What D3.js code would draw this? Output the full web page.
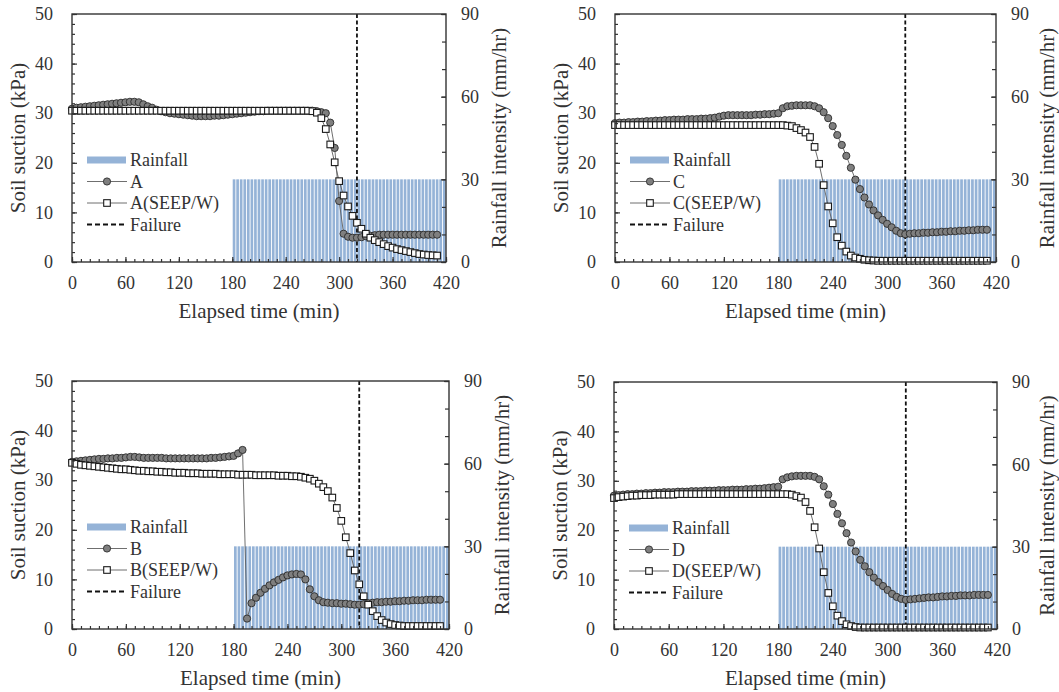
<!DOCTYPE html>
<html lang="en">
<head>
<meta charset="UTF-8">
<title>Soil suction and rainfall vs elapsed time</title>
<script src="https://d3js.org/d3.v7.min.js"></script>
<style>
    body { margin: 0; background: #fff; }
</style>
</head>
<body>
<svg id="chart" width="1059" height="692"></svg>
<script>
// elapsed time of every reading (min)
const times = [
    0, 5, 10, 15, 20, 25, 30, 35, 40, 45,
    50, 55, 60, 65, 70, 75, 80, 85, 90, 95,
    100, 105, 110, 115, 120, 125, 130, 135, 140, 145,
    150, 155, 160, 165, 170, 175, 180, 185, 190, 195,
    200, 205, 210, 215, 220, 225, 230, 235, 240, 245,
    250, 255, 260, 265, 270, 275, 280, 285, 290, 295,
    300, 305, 310, 315, 320, 325, 330, 335, 340, 345,
    350, 355, 360, 365, 370, 375, 380, 385, 390, 395,
    400, 405, 410
];

// soil suction (kPa), measured and SEEP/W
const aMeas = [
    30.9, 31.1, 31.2, 31.3, 31.4, 31.5, 31.6, 31.7, 31.8, 31.9,
    32.0, 32.1, 32.2, 32.3, 32.3, 32.2, 31.8, 31.4, 31.1, 30.7,
    30.4, 30.2, 30.0, 29.9, 29.8, 29.7, 29.6, 29.5, 29.4, 29.4,
    29.4, 29.4, 29.5, 29.5, 29.6, 29.7, 29.8, 29.9, 30.0, 30.1,
    30.2, 30.3, 30.4, 30.4, 30.5, 30.5, 30.5, 30.5, 30.5, 30.5,
    30.5, 30.5, 30.5, 30.5, 30.5, 30.4, 30.2, 30.0, 28.1, 23.0,
    12.3, 5.7, 5.1, 4.9, 4.9, 5.0, 5.2, 5.3, 5.4, 5.5,
    5.5, 5.5, 5.5, 5.5, 5.5, 5.5, 5.5, 5.5, 5.5, 5.5,
    5.5, 5.5, 5.5
];
const aSeep = [
    30.5, 30.5, 30.5, 30.5, 30.5, 30.5, 30.5, 30.5, 30.5, 30.5,
    30.5, 30.5, 30.5, 30.5, 30.5, 30.5, 30.5, 30.5, 30.5, 30.5,
    30.5, 30.5, 30.5, 30.5, 30.5, 30.5, 30.5, 30.5, 30.5, 30.5,
    30.5, 30.5, 30.5, 30.5, 30.5, 30.5, 30.5, 30.5, 30.5, 30.5,
    30.5, 30.5, 30.5, 30.5, 30.5, 30.5, 30.5, 30.5, 30.5, 30.5,
    30.5, 30.5, 30.5, 30.5, 30.4, 30.1, 29.0, 26.8, 23.7, 20.1,
    16.3, 13.4, 11.2, 9.3, 7.9, 6.7, 5.7, 4.9, 4.4, 4.0,
    3.6, 3.2, 2.9, 2.6, 2.4, 2.2, 2.0, 1.8, 1.6, 1.5,
    1.4, 1.35, 1.3
];
const bMeas = [
    33.7, 33.8, 33.9, 34.0, 34.1, 34.2, 34.3, 34.3, 34.4, 34.4,
    34.5, 34.5, 34.6, 34.7, 34.7, 34.6, 34.5, 34.5, 34.5, 34.5,
    34.5, 34.4, 34.4, 34.4, 34.4, 34.4, 34.4, 34.4, 34.4, 34.4,
    34.4, 34.5, 34.5, 34.6, 34.7, 34.8, 34.9, 35.4, 36.1, 2.1,
    5.2, 6.3, 7.3, 8.1, 8.8, 9.4, 9.9, 10.4, 10.8, 11.0,
    11.1, 11.0, 10.0, 8.0, 6.6, 5.8, 5.4, 5.3, 5.2, 5.2,
    5.1, 5.1, 5.0, 4.9, 4.9, 5.0, 5.2, 5.3, 5.4, 5.4,
    5.5, 5.5, 5.6, 5.6, 5.7, 5.7, 5.8, 5.8, 5.8, 5.9,
    5.9, 5.9, 5.9
];
const bSeep = [
    33.5, 33.3, 33.1, 33.0, 32.9, 32.8, 32.7, 32.6, 32.5, 32.4,
    32.3, 32.2, 32.2, 32.1, 32.0, 31.9, 31.9, 31.8, 31.8, 31.7,
    31.7, 31.6, 31.6, 31.5, 31.5, 31.5, 31.4, 31.4, 31.4, 31.3,
    31.3, 31.3, 31.3, 31.2, 31.2, 31.2, 31.2, 31.1, 31.1, 31.1,
    31.1, 31.0, 31.0, 31.0, 31.0, 31.0, 30.9, 30.9, 30.9, 30.8,
    30.8, 30.7, 30.5, 30.3, 29.9, 29.3, 28.6, 27.8, 26.5, 24.4,
    21.8, 18.5, 15.3, 11.8, 9.0, 6.6, 4.9, 3.6, 2.6, 1.8,
    1.3, 1.0, 0.8, 0.7, 0.6, 0.6, 0.6, 0.6, 0.6, 0.6,
    0.6, 0.6, 0.6
];
const cMeas = [
    28.0, 28.1, 28.1, 28.2, 28.2, 28.3, 28.3, 28.4, 28.4, 28.5,
    28.5, 28.6, 28.6, 28.7, 28.7, 28.7, 28.8, 28.8, 28.8, 28.9,
    28.9, 29.0, 29.1, 29.3, 29.5, 29.6, 29.6, 29.6, 29.6, 29.6,
    29.6, 29.7, 29.7, 29.8, 29.8, 29.9, 30.0, 31.0, 31.4, 31.5,
    31.6, 31.6, 31.6, 31.6, 31.4, 31.0, 30.2, 29.0, 27.4, 25.6,
    23.6, 21.4, 19.0, 16.6, 14.7, 13.0, 11.6, 10.4, 9.4, 8.5,
    7.7, 7.0, 6.3, 5.8, 5.6, 5.7, 5.8, 5.8, 5.9, 5.9,
    6.0, 6.0, 6.1, 6.1, 6.2, 6.2, 6.3, 6.3, 6.4, 6.4,
    6.5, 6.5, 6.5
];
const cSeep = [
    27.6, 27.6, 27.6, 27.6, 27.6, 27.6, 27.6, 27.6, 27.6, 27.6,
    27.6, 27.6, 27.6, 27.6, 27.6, 27.6, 27.6, 27.6, 27.6, 27.6,
    27.6, 27.6, 27.6, 27.6, 27.6, 27.6, 27.6, 27.6, 27.6, 27.6,
    27.6, 27.6, 27.6, 27.6, 27.6, 27.6, 27.6, 27.6, 27.5, 27.4,
    27.0, 26.6, 26.1, 25.2, 23.2, 19.8, 15.5, 11.2, 7.8, 5.0,
    3.3, 2.1, 1.3, 0.9, 0.65, 0.45, 0.35, 0.3, 0.25, 0.25,
    0.25, 0.25, 0.25, 0.25, 0.25, 0.25, 0.25, 0.25, 0.25, 0.25,
    0.25, 0.25, 0.25, 0.25, 0.25, 0.25, 0.25, 0.25, 0.25, 0.25,
    0.25, 0.25, 0.25
];
const dMeas = [
    27.0, 27.1, 27.2, 27.3, 27.3, 27.4, 27.4, 27.5, 27.5, 27.6,
    27.6, 27.7, 27.7, 27.7, 27.8, 27.8, 27.8, 27.9, 27.9, 27.9,
    28.0, 28.0, 28.0, 28.1, 28.1, 28.1, 28.2, 28.2, 28.2, 28.3,
    28.3, 28.4, 28.4, 28.5, 28.6, 28.7, 28.8, 30.3, 30.7, 30.9,
    31.0, 31.0, 31.0, 31.0, 30.8, 30.3, 28.9, 27.2, 25.3, 23.3,
    21.4, 19.4, 17.5, 15.7, 14.0, 12.7, 11.5, 10.4, 9.5, 8.7,
    7.9, 7.1, 6.5, 6.1, 5.9, 6.0, 6.1, 6.2, 6.3, 6.4,
    6.4, 6.5, 6.6, 6.6, 6.7, 6.7, 6.8, 6.8, 6.8, 6.9,
    6.9, 6.9, 6.9
];
const dSeep = [
    26.5, 26.7, 26.8, 26.9, 27.0, 27.0, 27.1, 27.1, 27.1, 27.2,
    27.2, 27.2, 27.2, 27.2, 27.3, 27.3, 27.3, 27.3, 27.3, 27.3,
    27.3, 27.3, 27.3, 27.3, 27.3, 27.3, 27.3, 27.3, 27.3, 27.3,
    27.3, 27.3, 27.3, 27.3, 27.3, 27.3, 27.3, 27.3, 27.3, 27.2,
    26.9, 26.6, 25.7, 23.9, 20.6, 16.3, 11.5, 7.3, 4.6, 2.7,
    1.6, 0.95, 0.6, 0.4, 0.3, 0.3, 0.3, 0.3, 0.3, 0.3,
    0.3, 0.3, 0.3, 0.3, 0.3, 0.3, 0.3, 0.3, 0.3, 0.3,
    0.3, 0.3, 0.3, 0.3, 0.3, 0.3, 0.3, 0.3, 0.3, 0.3,
    0.3, 0.3, 0.3
];

// rainfall bars (mm/hr)
const rainTimes = [
    180, 184, 188, 192, 196, 200, 204, 208, 212, 216,
    220, 224, 228, 232, 236, 240, 244, 248, 252, 256,
    260, 264, 268, 272, 276, 280, 284, 288, 292, 296,
    300, 304, 308, 312, 316, 320, 324, 328, 332, 336,
    340, 344, 348, 352, 356, 360, 364, 368, 372, 376,
    380, 384, 388, 392, 396, 400, 404, 408, 412, 416
];
const rainValues = [
    30, 30, 30, 30, 30, 30, 30, 30, 30, 30,
    30, 30, 30, 30, 30, 30, 30, 30, 30, 30,
    30, 30, 30, 30, 30, 30, 30, 30, 30, 30,
    30, 30, 30, 30, 30, 30, 30, 30, 30, 30,
    30, 30, 30, 30, 30, 30, 30, 30, 30, 30,
    30, 30, 30, 30, 30, 30, 30, 30, 30, 30
];
const failureTime = 320;

const xTicks = [0, 60, 120, 180, 240, 300, 360, 420];
const yTicks = [0, 10, 20, 30, 40, 50];
const rTicks = [0, 30, 60, 90];

const panels = [
    { name: "A", meas: aMeas, seep: aSeep, left: 72, top: 14, width: 374, height: 248, titleR: 53 },
    { name: "C", meas: cMeas, seep: cSeep, left: 615, top: 14, width: 381, height: 248, titleR: 51 },
    { name: "B", meas: bMeas, seep: bSeep, left: 72, top: 381, width: 377, height: 248, titleR: 53 },
    { name: "D", meas: dMeas, seep: dSeep, left: 614, top: 382, width: 383, height: 247, titleR: 50 }
];

const FONT = '"Liberation Serif", "Times New Roman", serif';
const svg = d3.select("#chart");
const rainColor = "#95b3d7";
const lineColor = "#5f5f5f";
const frameColor = "#333";

function styleAxis(sel) {
    sel.attr("color", frameColor).attr("font-size", 18).attr("font-family", null);
    sel.select(".domain").remove();
    sel.selectAll(".tick line").attr("stroke-width", 1.2);
    sel.selectAll(".tick text").style("font-family", FONT).attr("fill", "#333");
}

function drawPanel(p) {
    const g = svg.append("g").attr("transform", `translate(${p.left},${p.top})`);
    const w = p.width, h = p.height;

    const x = d3.scaleLinear().domain([0, 420]).range([0, w]);
    const y = d3.scaleLinear().domain([0, 50]).range([h, 0]);
    const yR = d3.scaleLinear().domain([0, 90]).range([h, 0]);
    const band = d3.scaleBand().domain(rainTimes).range([x(180), x(420)]).paddingInner(0.25).paddingOuter(0.12);

    // rainfall
    const rain = rainTimes.map((t, i) => ({ t: t, v: rainValues[i] }));
    g.append("g").selectAll("rect")
        .data(rain)
        .join("rect")
        .attr("x", d => band(d.t))
        .attr("width", band.bandwidth())
        .attr("y", d => yR(d.v))
        .attr("height", d => yR(0) - yR(d.v))
        .attr("fill", rainColor);

    // failure line
    g.append("line")
        .attr("x1", x(failureTime)).attr("x2", x(failureTime))
        .attr("y1", 0).attr("y2", h)
        .attr("stroke", "#111").attr("stroke-width", 1.8)
        .attr("stroke-dasharray", "4,2.5");

    const line = d3.line().x(d => x(d.t)).y(d => y(d.v));
    const measData = times.map((t, i) => ({ t: t, v: p.meas[i] }));
    const seepData = times.map((t, i) => ({ t: t, v: p.seep[i] }));

    // measured
    g.append("path").datum(measData)
        .attr("d", line).attr("fill", "none")
        .attr("stroke", lineColor).attr("stroke-width", 0.9);
    g.append("g").selectAll("circle")
        .data(measData)
        .join("circle")
        .attr("cx", d => x(d.t)).attr("cy", d => y(d.v)).attr("r", 3.6)
        .attr("fill", "#7f7f7f").attr("stroke", "#2b2b2b").attr("stroke-width", 0.9);

    // SEEP/W
    g.append("path").datum(seepData)
        .attr("d", line).attr("fill", "none")
        .attr("stroke", lineColor).attr("stroke-width", 0.9);
    g.append("g").selectAll("rect")
        .data(seepData)
        .join("rect")
        .attr("x", d => x(d.t) - 3.3).attr("y", d => y(d.v) - 3.3)
        .attr("width", 6.6).attr("height", 6.6)
        .attr("fill", "#fff").attr("stroke", "#1a1a1a").attr("stroke-width", 1.1);

    // axes
    g.append("g").call(d3.axisLeft(y).tickValues(d3.range(0, 51, 2)).tickSize(-3).tickFormat(""))
        .call(styleAxis);
    g.append("g").call(d3.axisLeft(y).tickValues(yTicks).tickSize(-5).tickPadding(19))
        .call(styleAxis);

    g.append("g").attr("transform", `translate(${w},0)`)
        .call(d3.axisRight(yR).tickValues(d3.range(0, 91, 10)).tickSize(-4).tickFormat(""))
        .call(styleAxis);
    g.append("g").attr("transform", `translate(${w},0)`)
        .call(d3.axisRight(yR).tickValues(rTicks).tickSize(-5).tickPadding(15))
        .call(styleAxis);

    g.append("g").attr("transform", `translate(0,${h})`)
        .call(d3.axisBottom(x).tickValues(d3.range(0, 421, 10)).tickSize(-3).tickFormat(""))
        .call(styleAxis);
    g.append("g").attr("transform", `translate(0,${h})`)
        .call(d3.axisBottom(x).tickValues(xTicks).tickSize(-5).tickPadding(14))
        .call(styleAxis);

    g.append("rect")
        .attr("width", w).attr("height", h)
        .attr("fill", "none").attr("stroke", frameColor).attr("stroke-width", 1.4);

    // titles
    const title = (sel) => sel.attr("text-anchor", "middle").attr("font-size", 21)
        .style("font-family", FONT).attr("fill", "#333");
    g.append("text")
        .attr("x", w / 2).attr("y", h + 56)
        .call(title)
        .text("Elapsed time (min)");
    g.append("text")
        .attr("transform", `translate(-54,${h / 2}) rotate(-90)`)
        .attr("dy", "0.35em").call(title)
        .text("Soil suction (kPa)");
    g.append("text")
        .attr("transform", `translate(${w + p.titleR},${h / 2}) rotate(-90)`)
        .attr("dy", "0.35em").call(title)
        .text("Rainfall intensity (mm/hr)");

    // legend
    const lg = g.append("g").attr("transform", "translate(15,146)");
    const rowH = 21.5;
    lg.append("rect").attr("x", 0).attr("y", -3.5).attr("width", 39).attr("height", 7).attr("fill", rainColor);

    lg.append("line").attr("x1", 0).attr("x2", 40).attr("y1", rowH).attr("y2", rowH)
        .attr("stroke", lineColor).attr("stroke-width", 0.9);
    lg.append("circle").attr("cx", 20).attr("cy", rowH).attr("r", 3.6)
        .attr("fill", "#7f7f7f").attr("stroke", "#2b2b2b").attr("stroke-width", 0.9);

    lg.append("line").attr("x1", 0).attr("x2", 40).attr("y1", rowH * 2).attr("y2", rowH * 2)
        .attr("stroke", lineColor).attr("stroke-width", 0.9);
    lg.append("rect").attr("x", 20 - 3.3).attr("y", rowH * 2 - 3.3).attr("width", 6.6).attr("height", 6.6)
        .attr("fill", "#fff").attr("stroke", "#1a1a1a").attr("stroke-width", 1.1);

    lg.append("line").attr("x1", 0).attr("x2", 40).attr("y1", rowH * 3).attr("y2", rowH * 3)
        .attr("stroke", "#111").attr("stroke-width", 1.8).attr("stroke-dasharray", "5,3");

    const labels = ["Rainfall", p.name, p.name + "(SEEP/W)", "Failure"];
    lg.selectAll("text.lab")
        .data(labels)
        .join("text")
        .attr("class", "lab")
        .attr("x", 43).attr("y", (d, i) => i * rowH)
        .attr("dy", "0.35em").attr("font-size", 18)
        .style("font-family", FONT).attr("fill", "#333")
        .text(d => d);
}

panels.forEach(drawPanel);
</script>
</body>
</html>
